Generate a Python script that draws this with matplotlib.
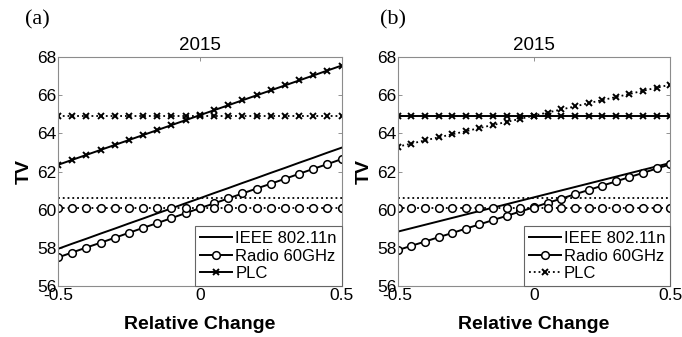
import matplotlib
matplotlib.use("Agg")
import matplotlib.pyplot as plt

plt.rcParams["font.family"] = ["Liberation Sans", "DejaVu Sans"]

rel_change = [-0.5, -0.45, -0.4, -0.35, -0.3, -0.25, -0.2, -0.15, -0.1, -0.05,
              0.0, 0.05, 0.1, 0.15, 0.2, 0.25, 0.3, 0.35, 0.4, 0.45, 0.5]

# panel (a)
a_ieee = [57.95, 58.22, 58.48, 58.75, 59.01, 59.28, 59.54, 59.81, 60.07, 60.34, 60.60,
          60.87, 61.13, 61.40, 61.66, 61.93, 62.19, 62.46, 62.72, 62.99, 63.25]
a_radio = [57.50, 57.76, 58.02, 58.27, 58.53, 58.79, 59.05, 59.30, 59.56, 59.82, 60.08,
           60.33, 60.59, 60.85, 61.11, 61.36, 61.62, 61.88, 62.14, 62.39, 62.65]
a_plc = [62.35, 62.61, 62.87, 63.13, 63.39, 63.65, 63.91, 64.17, 64.43, 64.69, 64.95,
         65.21, 65.47, 65.73, 65.99, 66.25, 66.51, 66.77, 67.03, 67.29, 67.55]

# panel (b)
b_ieee = [58.85, 59.03, 59.21, 59.39, 59.57, 59.75, 59.93, 60.11, 60.29, 60.47, 60.65,
          60.83, 61.01, 61.19, 61.37, 61.55, 61.73, 61.91, 62.09, 62.27, 62.45]
b_radio = [57.88, 58.11, 58.33, 58.56, 58.78, 59.01, 59.23, 59.46, 59.68, 59.91, 60.13,
           60.36, 60.58, 60.81, 61.03, 61.26, 61.48, 61.71, 61.93, 62.16, 62.38]
b_plc = [63.30, 63.46, 63.63, 63.79, 63.95, 64.11, 64.28, 64.44, 64.60, 64.76, 64.93,
         65.09, 65.25, 65.41, 65.58, 65.74, 65.90, 66.06, 66.23, 66.39, 66.55]

# constant (base) values
base_ieee = 60.62
base_radio = 60.08
base_plc = 64.92

labels = ["IEEE 802.11n", "Radio 60GHz", "PLC"]

fig = plt.figure(figsize=(6.82, 3.37), dpi=100)
ax_a = fig.add_axes([0.085, 0.151, 0.416, 0.680])
ax_b = fig.add_axes([0.583, 0.151, 0.400, 0.680])

circ = dict(marker="o", ms=5.5, mfc="white", mec="black", mew=1.1)
cross = dict(marker="x", ms=4.5, mec="black", mew=1.4)


def draw(ax, ieee, radio, plc, plc_varies_solid):
    n = len(rel_change)
    h1, = ax.plot(rel_change, ieee, "-", color="black", lw=1.4)
    ax.plot(rel_change, [base_ieee] * n, ":", color="black", lw=1.3)
    h2, = ax.plot(rel_change, radio, "-", color="black", lw=1.4, **circ)
    ax.plot(rel_change, [base_radio] * n, ":", color="black", lw=1.3, **circ)
    if plc_varies_solid:
        h3, = ax.plot(rel_change, plc, "-", color="black", lw=1.4, **cross)
        ax.plot(rel_change, [base_plc] * n, ":", color="black", lw=1.3, **cross)
    else:
        ax.plot(rel_change, [base_plc] * n, "-", color="black", lw=1.4, **cross)
        h3, = ax.plot(rel_change, plc, ":", color="black", lw=1.3, **cross)
    ax.set_xlim(-0.5, 0.5)
    ax.set_ylim(56, 68)
    ax.set_xticks([-0.5, 0, 0.5])
    ax.set_xticklabels(["-0.5", "0", "0.5"])
    ax.set_yticks([56, 58, 60, 62, 64, 66, 68])
    ax.tick_params(direction="in", length=3, width=0.6, color="0.5",
                   labelsize=12.5, pad=1, top=True, right=True)
    for s in ax.spines.values():
        s.set_color("0.55")
        s.set_linewidth(0.8)
    ax.set_title("2015", fontsize=13.5, pad=5)
    ax.set_xlabel("Relative Change", fontsize=14, fontweight="bold", labelpad=10)
    ax.set_ylabel("TV", fontsize=14, fontweight="bold", labelpad=3)
    leg = ax.legend([h1, h2, h3], labels, loc="lower right", fontsize=12,
                    handlelength=1.9, handletextpad=0.2, borderpad=0.3,
                    labelspacing=0.15, borderaxespad=0, fancybox=False,
                    framealpha=1)
    leg.get_frame().set_edgecolor("0.4")
    leg.get_frame().set_linewidth(0.8)


draw(ax_a, a_ieee, a_radio, a_plc, True)
draw(ax_b, b_ieee, b_radio, b_plc, False)

fig.text(0.036, 0.94, "(a)", fontsize=16, family="Liberation Serif", va="center")
fig.text(0.557, 0.94, "(b)", fontsize=16, family="Liberation Serif", va="center")

fig.savefig("out.png", dpi=100)
